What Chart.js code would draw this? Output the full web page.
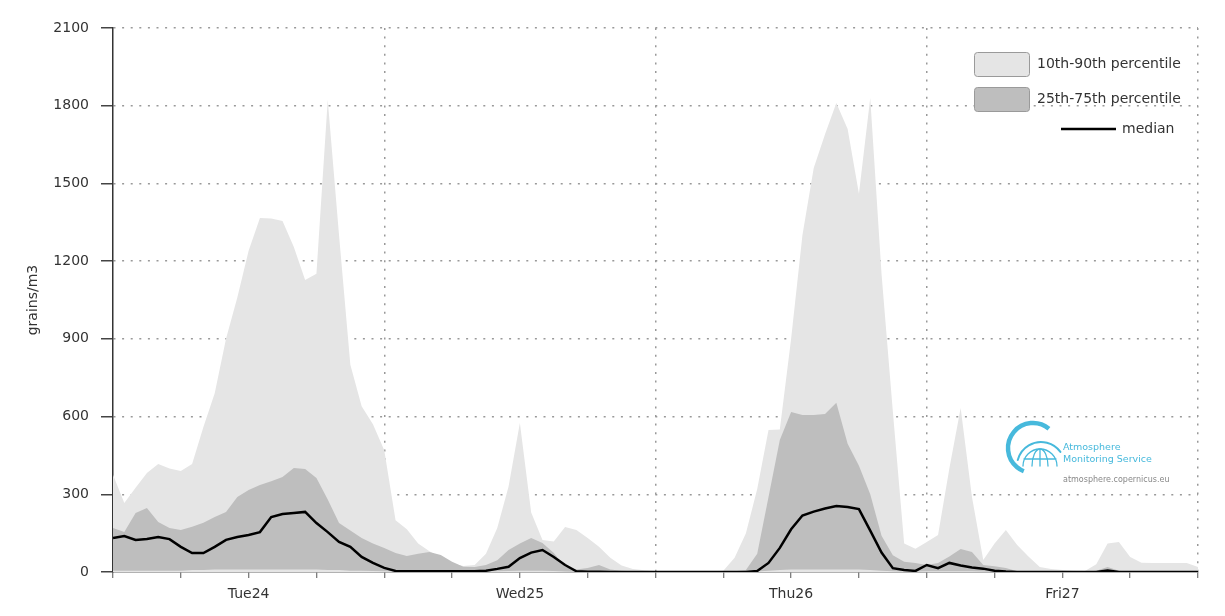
<!DOCTYPE html>
<html>
<head>
<meta charset="utf-8">
<script src="https://cdn.jsdelivr.net/npm/chart.js@4.4.1/dist/chart.umd.min.js"></script>
<style>
  html, body { margin: 0; padding: 0; background: #fff; }
  canvas { display: block; }
</style>
</head>
<body>
<canvas id="pollenChart" width="1225" height="616"></canvas>
<script>
// forecast hours from Tue24 00:00
const hours = [
  0, 1, 2, 3, 4, 5, 6, 7, 8, 9, 10, 11, 12, 13, 14, 15, 16, 17, 18, 19, 20, 21, 22, 23,
  24, 25, 26, 27, 28, 29, 30, 31, 32, 33, 34, 35, 36, 37, 38, 39, 40, 41, 42, 43, 44, 45, 46, 47,
  48, 49, 50, 51, 52, 53, 54, 55, 56, 57, 58, 59, 60, 61, 62, 63, 64, 65, 66, 67, 68, 69, 70, 71,
  72, 73, 74, 75, 76, 77, 78, 79, 80, 81, 82, 83, 84, 85, 86, 87, 88, 89, 90, 91, 92, 93, 94, 95, 96
];
const dayLabels = ['Tue24', 'Wed25', 'Thu26', 'Fri27'];
const legendNames = ['10th-90th percentile', '25th-75th percentile', 'median'];

const p10 = [
  0, 0, 0, 0, 0, 0, 0, 0, 0, 0, 0, 0, 0, 0, 0, 0, 0, 0, 0, 0, 0, 0, 0, 0,
  0, 0, 0, 0, 0, 0, 0, 0, 0, 0, 0, 0, 0, 0, 0, 0, 0, 0, 0, 0, 0, 0, 0, 0,
  0, 0, 0, 0, 0, 0, 0, 0, 0, 0, 0, 0, 0, 0, 0, 0, 0, 0, 0, 0, 0, 0, 0, 0,
  0, 0, 0, 0, 0, 0, 0, 0, 0, 0, 0, 0, 0, 0, 0, 0, 0, 0, 0, 0, 0, 0, 0, 0, 0
];
const p25 = [
  5, 5, 5, 5, 5, 5, 5, 8, 8, 10, 10, 10, 10, 10, 10, 10, 10, 10, 10, 8, 8, 5, 5, 4,
  3, 2, 2, 2, 2, 2, 2, 2, 2, 2, 3, 4, 5, 5, 5, 4, 2, 1, 1, 1, 0, 0, 0, 0,
  0, 0, 0, 0, 0, 0, 0, 0, 0, 2, 5, 8, 10, 10, 10, 10, 10, 10, 10, 8, 5, 3, 2, 2,
  3, 3, 3, 3, 3, 2, 1, 1, 0, 0, 0, 0, 0, 0, 0, 0, 1, 0, 0, 0, 0, 0, 0, 0, 0
];
const median = [
  131, 139, 124, 127, 135, 127, 97, 73, 73, 97, 124, 135, 143, 154, 212, 224, 228, 232, 189, 154, 116, 97, 58, 35,
  16, 4, 3, 3, 3, 3, 3, 3, 3, 5, 12, 20, 54, 75, 85, 58, 27, 3, 1, 1, 0, 0, 0, 0,
  0, 0, 0, 0, 0, 0, 0, 0, 0, 4, 35, 93, 165, 218, 233, 245, 255, 251, 243, 160, 75, 15, 8, 4,
  27, 15, 35, 25, 17, 13, 5, 2, 0, 0, 0, 0, 0, 0, 0, 0, 6, 0, 0, 0, 0, 0, 0, 0, 0
];
const p75 = [
  170, 154, 228, 247, 193, 170, 162, 175, 190, 212, 232, 290, 317, 336, 350, 367, 401, 398, 363, 280, 189, 160, 131, 110,
  93, 73, 62, 70, 77, 66, 40, 20, 19, 27, 45, 85, 110, 131, 112, 73, 20, 10, 15, 27, 10, 5, 3, 2,
  2, 1, 1, 1, 1, 1, 1, 3, 8, 70, 290, 510, 618, 606, 606, 610, 653, 495, 410, 300, 140, 65, 40, 35,
  27, 35, 60, 89, 77, 27, 22, 15, 3, 1, 1, 1, 1, 1, 1, 5, 19, 5, 1, 1, 1, 1, 1, 1, 1
];
const p90 = [
  375, 266, 325, 382, 417, 400, 390, 417, 560, 690, 900, 1060, 1240, 1367, 1365, 1355, 1255, 1127, 1151, 1822, 1300, 800, 640, 570,
  470, 200, 165, 110, 80, 55, 33, 23, 27, 70, 170, 330, 575, 230, 124, 118, 174, 162, 131, 97, 55, 25, 12, 7,
  4, 2, 2, 2, 2, 3, 5, 55, 150, 320, 548, 550, 900, 1300, 1560, 1690, 1810, 1710, 1460, 1830, 1150, 620, 110, 90,
  116, 143, 400, 633, 290, 46, 110, 162, 104, 60, 19, 12, 8, 5, 4, 30, 110, 116, 58, 36, 35, 35, 35, 35, 19
];

const lightGrey = '#e5e5e5';
const darkGrey = '#bebebe';
const textColor = '#333';
const dotColor = '#999';
const dots = [2, 6.6];
const baseFont = { family: '"DejaVu Sans", sans-serif', size: 14 };

function points(values) {
  return hours.map((h, i) => ({ x: h, y: values[i] }));
}

// legend box in the top right corner of the plot
const bandLegend = {
  id: 'bandLegend',
  afterDraw(chart) {
    const ctx = chart.ctx;
    const right = chart.chartArea.right;
    const boxX = right - 224;
    const textX = right - 161;
    ctx.save();
    ctx.font = '14px "DejaVu Sans", sans-serif';
    ctx.textBaseline = 'middle';

    [[lightGrey, 52], [darkGrey, 87]].forEach(([fill, y], i) => {
      ctx.beginPath();
      if (ctx.roundRect) ctx.roundRect(boxX + 0.5, y + 0.5, 55, 24, 3);
      else ctx.rect(boxX + 0.5, y + 0.5, 55, 24);
      ctx.fillStyle = fill;
      ctx.fill();
      ctx.strokeStyle = '#9a9a9a';
      ctx.lineWidth = 1;
      ctx.stroke();
      ctx.fillStyle = textColor;
      ctx.fillText(legendNames[i], textX, y + 12);
    });

    ctx.beginPath();
    ctx.moveTo(right - 137, 129);
    ctx.lineTo(right - 82, 129);
    ctx.strokeStyle = '#000';
    ctx.lineWidth = 2.5;
    ctx.stroke();
    ctx.fillStyle = textColor;
    ctx.fillText(legendNames[2], right - 76, 129);
    ctx.restore();
  }
};

// CAMS watermark
const camsLogo = {
  id: 'camsLogo',
  afterDraw(chart) {
    const ctx = chart.ctx;
    const blue = '#47b9dc';
    ctx.save();
    ctx.strokeStyle = blue;

    // outer "C" arc, open to the right
    ctx.lineWidth = 4.5;
    ctx.beginPath();
    ctx.arc(1033, 448, 25, -Math.PI * 0.28, Math.PI * 0.62, true);
    ctx.stroke();

    // inner arc over the globe
    ctx.lineCap = 'round';
    ctx.lineWidth = 2;
    ctx.beginPath();
    ctx.arc(1041, 466, 24, -Math.PI * 0.92, -Math.PI * 0.2);
    ctx.stroke();

    // globe
    ctx.lineWidth = 1.3;
    ctx.beginPath();
    ctx.ellipse(1040, 466, 17, 17, 0, Math.PI, 2 * Math.PI);
    ctx.moveTo(1024, 459);
    ctx.lineTo(1056, 459);
    ctx.moveTo(1040, 449);
    ctx.lineTo(1040, 466);
    ctx.stroke();
    ctx.beginPath();
    ctx.ellipse(1040, 466, 8, 17, 0, Math.PI, 2 * Math.PI);
    ctx.stroke();

    ctx.fillStyle = blue;
    ctx.textBaseline = 'middle';
    ctx.font = '9.5px "DejaVu Sans", sans-serif';
    ctx.fillText('Atmosphere', 1063, 448);
    ctx.fillText('Monitoring Service', 1063, 460);
    ctx.fillStyle = '#888';
    ctx.font = '8px "DejaVu Sans", sans-serif';
    ctx.fillText('atmosphere.copernicus.eu', 1063, 480);
    ctx.restore();
  }
};

const ctx = document.getElementById('pollenChart').getContext('2d');
const pollenChart = new Chart(ctx, {
  type: 'line',
  data: {
    datasets: [
      { label: 'p10', data: points(p10), borderWidth: 0, pointRadius: 0, fill: false, order: 2 },
      { label: legendNames[0], data: points(p90), borderWidth: 0, pointRadius: 0,
        fill: '-1', backgroundColor: lightGrey, order: 2 },
      { label: 'p25', data: points(p25), borderWidth: 0, pointRadius: 0, fill: false, order: 1 },
      { label: legendNames[1], data: points(p75), borderWidth: 0, pointRadius: 0,
        fill: '-1', backgroundColor: darkGrey, order: 1 },
      { label: legendNames[2], data: points(median), borderColor: '#000', borderWidth: 2.5,
        pointRadius: 0, fill: false, order: 0 }
    ]
  },
  options: {
    responsive: false,
    animation: false,
    devicePixelRatio: 1,
    layout: { padding: { left: 0, right: 27, top: 28, bottom: 0 } },
    plugins: {
      legend: { display: false },
      tooltip: { enabled: false }
    },
    elements: { line: { tension: 0 } },
    scales: {
      x: {
        type: 'linear',
        min: 0,
        max: 96,
        afterFit: scale => { scale.height = 44; },
        ticks: {
          stepSize: 6,
          autoSkip: false,
          maxRotation: 0,
          padding: 8,
          color: textColor,
          font: baseFont,
          callback: v => (v % 24 === 12 ? dayLabels[(v - 12) / 24] : '')
        },
        grid: {
          color: c => (c.tick && c.tick.value % 24 === 0 && c.tick.value > 0 ? dotColor : 'transparent'),
          lineWidth: 1.5,
          tickLength: 6,
          tickColor: '#555',
          tickWidth: 1
        },
        border: { display: true, color: '#666', width: 1.5, dash: dots }
      },
      y: {
        min: 0,
        max: 2100,
        afterFit: scale => { scale.width = 113; },
        ticks: {
          stepSize: 300,
          padding: 12,
          color: textColor,
          font: baseFont,
          callback: v => String(v)
        },
        grid: {
          color: c => (c.tick && c.tick.value === 0 ? 'transparent' : dotColor),
          lineWidth: 1.5,
          tickLength: 12,
          tickColor: '#444',
          tickWidth: 1.5
        },
        border: { display: true, color: '#333', width: 1.5, dash: dots },
        title: {
          display: true,
          text: 'grains/m3',
          color: textColor,
          font: baseFont,
          padding: { top: 25, bottom: 0 }
        }
      }
    }
  },
  plugins: [bandLegend, camsLogo]
});
</script>
</body>
</html>
